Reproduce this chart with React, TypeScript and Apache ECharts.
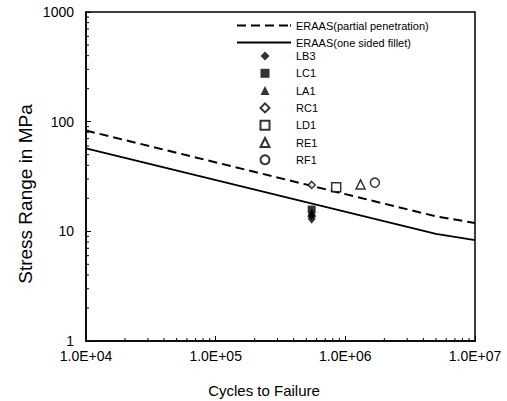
import React, { useEffect, useRef } from "react";
import * as echarts from "echarts";

const xTickLabels = ["1.0E+04", "1.0E+05", "1.0E+06", "1.0E+07"];
const yTickLabels = ["1", "10", "100", "1000"];

const partialPenetration: [number, number][] = [
  [1e4, 83],
  [5e6, 13.7],
  [1e7, 11.9],
];
const oneSidedFillet: [number, number][] = [
  [1e4, 57],
  [5e6, 9.5],
  [1e7, 8.3],
];
const LB3: [number, number][] = [
  [5.5e5, 13.0],
  [5.5e5, 14.0],
];
const LC1: [number, number][] = [[5.5e5, 15.8]];
const LA1: [number, number][] = [[5.5e5, 14.8]];
const RC1: [number, number][] = [[5.5e5, 26.5]];
const LD1: [number, number][] = [[8.5e5, 25.2]];
const RE1: [number, number][] = [[1.31e6, 26.8]];
const RF1: [number, number][] = [[1.69e6, 27.8]];

const lineNames = ["ERAAS(partial penetration)", "ERAAS(one sided fillet)"];
const markerNames = ["LB3", "LC1", "LA1", "RC1", "LD1", "RE1", "RF1"];

const FONT = "Liberation Sans, Arial, sans-serif";

const DASH_ICON =
  "path://M0,0h9v2h-9z M14,0h9v2h-9z M28,0h9v2h-9z M42,0h9v2h-9z M53,0h1v2h-1z";
const SOLID_ICON = "path://M0,0h54v1.8h-54z";

export default function App() {
  const ref = useRef<HTMLDivElement>(null);
  useEffect(() => {
    if (!ref.current) return;
    const chart = echarts.init(ref.current, null, { renderer: "svg" });

    const xMinor: number[][] = [];
    for (let e = 4; e < 7; e++)
      for (let k = 2; k <= 9; k++) xMinor.push([k * Math.pow(10, e), 1]);
    const yMinor: number[][] = [];
    for (let e = 0; e < 3; e++)
      for (let k = 2; k <= 9; k++) yMinor.push([1e4, k * Math.pow(10, e)]);

    const open = { color: "#fff", borderColor: "#000", borderWidth: 1.5 };
    const filled = { color: "#000" };

    chart.setOption({
      animation: false,
      backgroundColor: "#fff",
      grid: {
        left: 86,
        right: 32,
        top: 12,
        bottom: 60,
        show: true,
        borderColor: "#000",
        borderWidth: 1.5,
        backgroundColor: "transparent",
      },
      xAxis: {
        type: "log",
        logBase: 10,
        min: 1e4,
        max: 1e7,
        interval: 1,
        axisLine: { show: true, lineStyle: { color: "#000", width: 1.5 } },
        axisTick: { show: true, inside: true, length: 5, lineStyle: { color: "#000" } },
        splitLine: { show: false },
        axisLabel: {
          color: "#000",
          fontFamily: FONT,
          fontSize: 14,
          lineHeight: 13,
          margin: 8,
          formatter: (_v: number, i: number) => xTickLabels[i] ?? "",
        },
      },
      yAxis: {
        type: "log",
        logBase: 10,
        min: 1,
        max: 1000,
        interval: 1,
        axisLine: { show: true, lineStyle: { color: "#000", width: 1.5 } },
        axisTick: { show: true, inside: true, length: 5, lineStyle: { color: "#000" } },
        splitLine: { show: false },
        axisLabel: {
          color: "#000",
          fontFamily: FONT,
          fontSize: 14,
          lineHeight: 12,
          margin: 12,
          formatter: (_v: number, i: number) => yTickLabels[i] ?? "",
        },
      },
      legend: [
        {
          left: 237,
          top: 20,
          padding: 0,
          orient: "vertical",
          itemWidth: 54,
          itemHeight: 9,
          itemGap: 6,
          textStyle: { fontFamily: FONT, fontSize: 11, color: "#000", lineHeight: 9 },
          data: [
            { name: lineNames[0], icon: DASH_ICON },
            { name: lineNames[1], icon: SOLID_ICON },
          ],
        },
        {
          left: 259.5,
          top: 50.5,
          padding: 0,
          orient: "vertical",
          itemWidth: 9,
          itemHeight: 9,
          itemGap: 6.3,
          formatter: (name: string) => `{t|${name}}`,
          textStyle: {
            fontFamily: FONT,
            fontSize: 11,
            color: "#000",
            lineHeight: 9,
            rich: {
              t: { fontFamily: FONT, fontSize: 11, color: "#000", lineHeight: 9, padding: [0, 0, 0, 21.5] },
            },
          },
          data: markerNames,
        },
      ],
      graphic: [
        {
          type: "text",
          x: 264,
          y: 390,
          style: {
            text: "Cycles to Failure",
            font: `15px ${FONT}`,
            fill: "#000",
            align: "center",
            verticalAlign: "middle",
          },
        },
        {
          type: "text",
          x: 25,
          y: 194,
          rotation: Math.PI / 2,
          style: {
            text: "Stress Range in MPa",
            font: `19px ${FONT}`,
            fill: "#000",
            align: "center",
            verticalAlign: "middle",
          },
        },
      ],
      series: [
        {
          name: lineNames[0],
          type: "line",
          data: partialPenetration,
          symbol: "none",
          lineStyle: { color: "#000", width: 2, type: [9, 5] },
          itemStyle: { color: "#000" },
        },
        {
          name: lineNames[1],
          type: "line",
          data: oneSidedFillet,
          symbol: "none",
          lineStyle: { color: "#000", width: 1.8 },
          itemStyle: { color: "#000" },
        },
        { name: "LB3", type: "scatter", data: LB3, symbol: "diamond", symbolSize: [8, 10], itemStyle: filled, z: 5 },
        { name: "LC1", type: "scatter", data: LC1, symbol: "rect", symbolSize: 8, itemStyle: filled, z: 5 },
        { name: "LA1", type: "scatter", data: LA1, symbol: "triangle", symbolSize: 9, itemStyle: filled, z: 5 },
        { name: "RC1", type: "scatter", data: RC1, symbol: "diamond", symbolSize: 7, itemStyle: open, z: 5 },
        { name: "LD1", type: "scatter", data: LD1, symbol: "rect", symbolSize: 9, itemStyle: open, z: 5 },
        { name: "RE1", type: "scatter", data: RE1, symbol: "triangle", symbolSize: 9, itemStyle: open, z: 5 },
        { name: "RF1", type: "scatter", data: RF1, symbol: "circle", symbolSize: 9, itemStyle: open, z: 5 },
        {
          name: "xminor",
          type: "custom",
          data: xMinor,
          silent: true,
          renderItem: (_p: any, api: any) => {
            const pt = api.coord([api.value(0), api.value(1)]);
            return {
              type: "line",
              shape: { x1: pt[0], y1: pt[1], x2: pt[0], y2: pt[1] - 3 },
              style: { stroke: "#000", lineWidth: 1 },
            };
          },
        },
        {
          name: "yminor",
          type: "custom",
          data: yMinor,
          silent: true,
          renderItem: (_p: any, api: any) => {
            const pt = api.coord([api.value(0), api.value(1)]);
            return {
              type: "line",
              shape: { x1: pt[0], y1: pt[1], x2: pt[0] + 3, y2: pt[1] },
              style: { stroke: "#000", lineWidth: 1 },
            };
          },
        },
      ],
    });
    return () => chart.dispose();
  }, []);
  return (
    <div
      ref={ref}
      style={{ position: "fixed", left: 0, top: 0, width: 507, height: 401 }}
    />
  );
}
